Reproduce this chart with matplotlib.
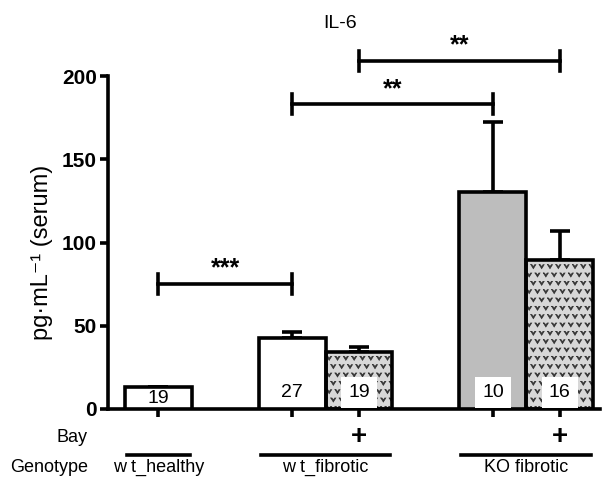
import matplotlib
matplotlib.use("Agg")
import numpy as np
import matplotlib.pyplot as plt
from matplotlib import hatch as mhatch
from matplotlib.path import Path
from matplotlib.transforms import blended_transform_factory

plt.rcParams['font.family'] = ['Liberation Sans', 'DejaVu Sans']
plt.rcParams['hatch.linewidth'] = 0.5


class VShapes(mhatch.Shapes):
    """Small filled 'v' marks used as hatch texture."""
    size = 0.3
    filled = True

    def __init__(self, hatch, density):
        self.num_rows = hatch.count('v') * density
        verts = np.array([[-1, 0.8], [-0.55, 0.8], [0, 0.0], [0.55, 0.8],
                          [1, 0.8], [0, -0.8], [-1, 0.8]])
        self.shape_vertices = verts
        codes = np.full(len(verts), Path.LINETO, dtype=Path.code_type)
        codes[0] = Path.MOVETO
        self.shape_codes = codes
        super().__init__(hatch, density)


mhatch._hatch_types.append(VShapes)

# ---- data ----
groups = ["w t_healthy", "w t_fibrotic", "KO fibrotic"]
group_members = [[0], [1, 2], [3, 4]]
bay = ["", "", "+", "", "+"]
means = [13, 42.5, 34.5, 130.5, 89.5]
sems = [0.5, 3.7, 3.0, 42.0, 17.5]
ns = [19, 27, 19, 10, 16]
fills = ["white", "white", "hatch", "#bdbdbd", "hatch"]
comparisons = [(0, 1, "***", 75), (1, 3, "**", 183), (2, 4, "**", 209)]
yticks = [0, 50, 100, 150, 200]

# ---- layout ----
positions = [0.75, 2.75, 3.75, 5.75, 6.75]
width = 1.0
lw = 2.6

fig = plt.figure(figsize=(6.05, 4.79), dpi=100)
ax = fig.add_axes([108/605, 1-409/479, (600-108)/605, (409-76)/479])

for i, (x, m, s, f) in enumerate(zip(positions, means, sems, fills)):
    ax.errorbar(x, m, yerr=[[0], [s]], fmt='none', ecolor='black',
                elinewidth=lw, capsize=7, capthick=lw, zorder=1)
    if f == "hatch":
        ax.bar(x, m, width=width, color='#d8d8d8', edgecolor='#333333',
               hatch='vv', linewidth=0, zorder=2)
        ax.bar(x, m, width=width, fill=False, edgecolor='black',
               linewidth=lw, zorder=3)
    else:
        ax.bar(x, m, width=width, color=f, edgecolor='black',
               linewidth=lw, zorder=3)
    ypos = m / 2 if m < 20 else 10
    ax.text(x, ypos, str(ns[i]), ha='center', va='center', fontsize=14,
            zorder=5,
            bbox=dict(boxstyle='square,pad=0.35', fc='white', ec='none')
            if f != "white" else None)

# significance brackets
for a, b, star, y in comparisons:
    xa, xb = positions[a], positions[b]
    ax.plot([xa, xb], [y, y], color='black', lw=lw, clip_on=False, zorder=4)
    ax.plot([xa, xa], [y-6, y+6], color='black', lw=lw, clip_on=False, zorder=4)
    ax.plot([xb, xb], [y-6, y+6], color='black', lw=lw, clip_on=False, zorder=4)
    ax.text((xa+xb)/2, y+2, star, ha='center', va='bottom', fontsize=18,
            fontweight='bold', clip_on=False)

ax.set_xlim(0, 7.35)
ax.set_ylim(0, 200)
ax.set_yticks(yticks)
ax.set_yticklabels([str(t) for t in yticks], fontweight='bold', fontsize=15)
ax.set_xticks(positions)
ax.set_xticklabels([])
ax.tick_params(axis='both', direction='out', length=6, width=lw, color='black')
ax.tick_params(axis='y', pad=2)
for sp in ['top', 'right']:
    ax.spines[sp].set_visible(False)
for sp in ['left', 'bottom']:
    ax.spines[sp].set_linewidth(lw)

# bottom annotation rows
tr = blended_transform_factory(ax.transData, fig.transFigure)
for x, b in zip(positions, bay):
    if b:
        ax.text(x, 1-437/479, b, transform=tr, ha='center', va='center',
                fontsize=20, fontweight='bold')
for g, mem in zip(groups, group_members):
    x0 = positions[mem[0]] - width/2 + 0.03
    x1 = positions[mem[-1]] + width/2 - 0.03
    ax.plot([x0, x1], [1-455/479]*2, transform=tr, color='black', lw=lw,
            clip_on=False)
    ax.text((x0+x1)/2, 1-467/479, g, transform=tr, ha='center', va='center',
            fontsize=13)

fig.text(88/605, 1-437/479, "Bay", ha='right', va='center', fontsize=13)
fig.text(10/605, 1-467/479, "Genotype", ha='left', va='center', fontsize=13)
fig.text(340/605, 1-23/479, "IL-6", ha='center', va='center', fontsize=14)
fig.text(42/605, 1-252/479, "pg·mL⁻¹ (serum)", rotation=90, ha='center',
         va='center', fontsize=17)

fig.savefig("out.png", dpi=100)
